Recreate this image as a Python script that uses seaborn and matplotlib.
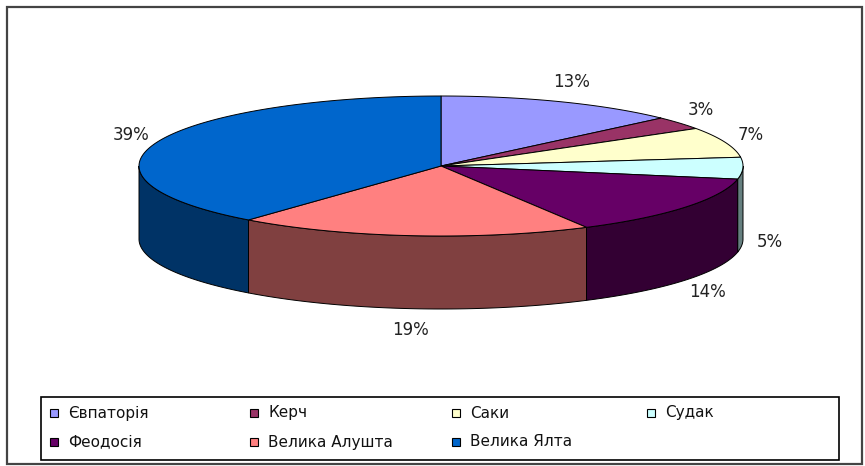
import numpy as np
import matplotlib
matplotlib.use("Agg")
import matplotlib.pyplot as plt
from matplotlib.patches import Polygon, Rectangle
import seaborn as sns

# data
regions = ["Євпаторія", "Керч", "Саки", "Судак", "Феодосія", "Велика Алушта", "Велика Ялта"]
shares = [13, 3, 7, 5, 14, 19, 39]
colors = ["#9999FF", "#993366", "#FFFFCC", "#CCFFFF", "#660066", "#FF8080", "#0066CC"]

sns.set_theme(style="white")
plt.rcParams["font.family"] = ["DejaVu Sans"]

fig = plt.figure(figsize=(8.65, 4.66), dpi=100)
ax = fig.add_axes([0, 0, 1, 1])
ax.set_xlim(0, 865)
ax.set_ylim(466, 0)
ax.axis("off")

# 3d pie geometry (pixel space)
cx, cy, a, b, depth = 441, 166, 302, 70, 73


def rim(t):
    return cx + a * np.sin(t), cy - b * np.cos(t)


total = sum(shares)
bounds = np.concatenate([[0], np.cumsum(shares)]) / total * 2 * np.pi

# side walls first
for i, c in enumerate(colors):
    s, e = max(bounds[i], np.pi / 2), min(bounds[i + 1], 3 * np.pi / 2)
    if e <= s:
        continue
    t = np.linspace(s, e, 80)
    x, y = rim(t)
    pts = list(zip(x, y)) + list(zip(x[::-1], y[::-1] + depth))
    dark = tuple(0.5 * v for v in matplotlib.colors.to_rgb(c))
    ax.add_patch(Polygon(pts, closed=True, facecolor=dark, edgecolor="black", lw=0.7, zorder=2))

# top faces
for i, c in enumerate(colors):
    t = np.linspace(bounds[i], bounds[i + 1], 120)
    x, y = rim(t)
    pts = [(cx, cy)] + list(zip(x, y))
    ax.add_patch(Polygon(pts, closed=True, facecolor=c, edgecolor="black", lw=0.7, zorder=3))

# percent labels
for i, v in enumerate(shares):
    m = (bounds[i] + bounds[i + 1]) / 2
    lx = cx + 1.09 * a * np.sin(m)
    ly = cy - 1.3 * b * np.cos(m)
    if np.cos(m) < 0:
        ly += depth
    ax.text(lx, ly, f"{v}%", ha="center", va="center", fontsize=12, color="#222222", zorder=4)

# outer frame
ax.add_patch(Rectangle((7, 7), 855, 457, fill=False, edgecolor="#444444", lw=1.6, zorder=1))

# legend
ax.add_patch(Rectangle((41, 397), 798, 63, fill=False, edgecolor="black", lw=1.2, zorder=1))
col_x = [50, 250, 452, 647]
row_y = [413, 442]
for i, (name, c) in enumerate(zip(regions, colors)):
    x0, y0 = col_x[i % 4], row_y[i // 4]
    ax.add_patch(Rectangle((x0, y0 - 4), 8, 8, facecolor=c, edgecolor="black", lw=0.8, zorder=3))
    ax.text(x0 + 18, y0, name, ha="left", va="center", fontsize=11, color="#111111")

plt.savefig("out.png", dpi=100)
